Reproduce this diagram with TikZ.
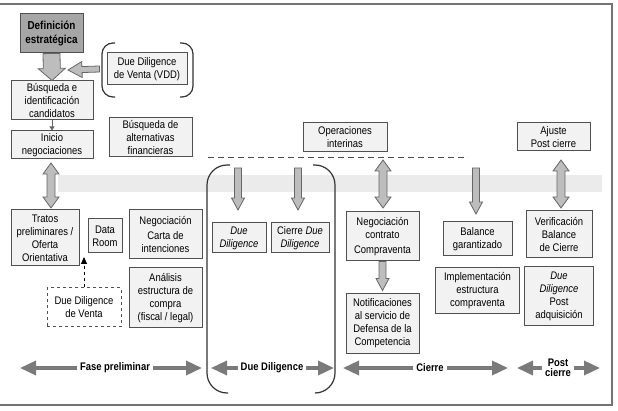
\documentclass[tikz,border=0pt]{standalone}
\usepackage{fontspec}
\setmainfont{Liberation Sans}[FakeStretch=0.86]
\usetikzlibrary{calc, positioning, arrows.meta}
\definecolor{boxline}{HTML}{505050}
\definecolor{boxfill}{HTML}{F2F2F2}
\definecolor{deffill}{HTML}{A6A6A6}
\definecolor{arrfill}{HTML}{BDBDBD}
\definecolor{arrline}{HTML}{666666}
\definecolor{bandgray}{HTML}{EBEBEB}
\definecolor{phasegray}{HTML}{7A7A7A}
\tikzstyle{stage} = [rectangle, draw=boxline, line width=1pt, fill=boxfill, align=center,
inner sep=2pt, font=\fontsize{11}{13}\selectfont]
\tikzstyle{phaselabel} = [fill=white, inner sep=3pt, align=center, font=\fontsize{11}{11}\selectfont\bfseries]
\tikzstyle{phasearrow} = [draw=phasegray, line width=3.5pt, -{Triangle[length=16pt,width=14pt]}]
\tikzstyle{bracket} = [draw=black!80, line width=1.2pt]
\tikzset{
  blockarr/.style n args={3}{draw=arrline, fill=arrfill, line width=0.8pt, to path={
    ($(\tikztostart)!#1!90:(\tikztotarget)$) -- ($(\tikztotarget)!#3!(\tikztostart)!#1!-90:(\tikztostart)$)
    -- ($(\tikztotarget)!#3!(\tikztostart)!#2!-90:(\tikztostart)$) -- (\tikztotarget)
    -- ($(\tikztotarget)!#3!(\tikztostart)!#2!90:(\tikztostart)$)
    -- ($(\tikztotarget)!#3!(\tikztostart)!#1!90:(\tikztostart)$)
    -- ($(\tikztostart)!#1!-90:(\tikztotarget)$) -- cycle}},
  blockdbl/.style n args={3}{draw=arrline, fill=arrfill, line width=0.8pt, to path={
    (\tikztostart) -- ($(\tikztostart)!#3!(\tikztotarget)!#2!90:(\tikztotarget)$)
    -- ($(\tikztostart)!#3!(\tikztotarget)!#1!90:(\tikztotarget)$)
    -- ($(\tikztotarget)!#3!(\tikztostart)!#1!-90:(\tikztostart)$)
    -- ($(\tikztotarget)!#3!(\tikztostart)!#2!-90:(\tikztostart)$) -- (\tikztotarget)
    -- ($(\tikztotarget)!#3!(\tikztostart)!#2!90:(\tikztostart)$)
    -- ($(\tikztotarget)!#3!(\tikztostart)!#1!90:(\tikztostart)$)
    -- ($(\tikztostart)!#3!(\tikztotarget)!#1!-90:(\tikztotarget)$)
    -- ($(\tikztostart)!#3!(\tikztotarget)!#2!-90:(\tikztotarget)$) -- cycle}}
}

\begin{document}
\begin{tikzpicture}[x=1pt, y=-1pt]
  \useasboundingbox (0,0) rectangle (618,411);
  \draw[draw=black!55, line width=1.2pt] (-3,4) -- (612,4) -- (612,405) -- (-3,405);
  \fill[bandgray] (58,175) rectangle (602,192);
  \draw[draw=black!70, line width=0.8pt, dash pattern=on 6pt off 4pt] (208,157) -- (468,157);

  % top part
  \node (def) [stage, fill=deffill, font=\fontsize{11.5}{14}\selectfont\bfseries, minimum width=63pt, minimum height=39pt] at (51.5,33.5) {Definición\\estratégica};
  \node (vdd) [stage, minimum width=80pt, minimum height=32pt] at (147,69) {Due Diligence\\de Venta (VDD)};
  \node (bus) [stage, minimum width=82pt, minimum height=39pt] at (52,100.5) {Búsqueda e\\identificación\\candidatos};
  \node (inicio) [stage, below=10pt of bus, minimum width=82pt, minimum height=28pt] {Inicio\\negociaciones};
  \node (alt) [stage, minimum width=83pt, minimum height=39pt] at (150.5,137.5) {Búsqueda de\\alternativas\\financieras};
  \node (opint) [stage, minimum width=84pt, minimum height=29pt] at (345,137.5) {Operaciones\\interinas};
  \node (ajuste) [stage, minimum width=73pt, minimum height=28pt] at (553.5,137) {Ajuste\\Post cierre};

  % fase preliminar
  \node (tratos) [stage, minimum width=68pt, minimum height=56pt] at (45,238) {Tratos\\preliminares /\\Oferta\\Orientativa};
  \node (dataroom) [stage, minimum width=34pt, minimum height=34pt] at (105,236) {Data\\Room};
  \node (carta) [stage, minimum width=73pt, minimum height=49pt] at (165.5,234.5) {Negociación\\[2pt]Carta de\\intenciones};
  \node (analisis) [stage, below=8pt of carta, minimum width=73pt, minimum height=60pt] {Análisis\\estructura de\\compra\\(fiscal / legal)};
  \node (ddv) [stage, fill=white, dashed, minimum width=74pt, minimum height=39pt] at (84,307.5) {Due Diligence\\de Venta};

  % due diligence
  \node (dd) [stage, minimum width=54pt, minimum height=30pt] at (239,238) {\textit{Due}\\\textit{Diligence}};
  \node (cierredd) [stage, right=4pt of dd, minimum width=58pt, minimum height=30pt] {Cierre \textit{Due}\\\textit{Diligence}};

  % cierre
  \node (negcont) [stage, minimum width=73pt, minimum height=49pt] at (382.5,236.5) {Negociación\\contrato\\[2pt]Compraventa};
  \node (notif) [stage, below=32pt of negcont, minimum width=73pt, minimum height=59pt] {Notificaciones\\al servicio de\\Defensa de la\\Competencia};
  \node (balance) [stage, minimum width=69pt, minimum height=34pt] at (477.5,239) {Balance\\garantizado};
  \node (impl) [stage, below=11pt of balance, minimum width=84pt, minimum height=46pt] {Implementación\\estructura\\compraventa};

  % post cierre
  \node (verif) [stage, minimum width=66pt, minimum height=47pt] at (559,234.5) {Verificación\\Balance\\de Cierre};
  \node (ddpost) [stage, below=8pt of verif, minimum width=69pt, minimum height=59pt] {\textit{Due}\\\textit{Diligence}\\Post\\adquisición};

  % brackets
  \draw[bracket, rounded corners=11pt] (115,43) -- (102,43) -- (102,97) -- (115,97);
  \draw[bracket, rounded corners=11pt] (180,43) -- (193,43) -- (193,97) -- (180,97);
  \draw[bracket, rounded corners=20pt] (230,165) -- (207,165) -- (207,393) -- (228,393);
  \draw[bracket, rounded corners=20pt] (313,165) -- (335,165) -- (335,393) -- (315,393);

  % arrow ends on the band
  \coordinate (vddtip) at (68,70);
  \coordinate (ddtop) at (238,168);
  \coordinate (ddtip) at (238,210);
  \coordinate (cdtop) at (298,168);
  \coordinate (cdtip) at (298,210);
  \coordinate (optop) at (383,160);
  \coordinate (opbot) at (383,208);
  \coordinate (baltop) at (476,168);
  \coordinate (baltip) at (476,214);
  \coordinate (ajtop) at (561,160);
  \coordinate (ajbot) at (561,208);
  \coordinate (initop) at (51,163);
  \coordinate (inibot) at (51,208);
  \coordinate (tratostip) at (84,257);

  \draw[blockarr={8.5pt}{13.5pt}{12pt}] (def.south) to (bus.north);
  \draw[blockarr={3pt}{8pt}{14pt}] ([xshift=-7pt]vdd.west) to (vddtip);
  \draw[draw=arrline, line width=0.8pt, -{Triangle[length=4pt,width=5pt]}] (bus.south) -- (inicio.north);
  \draw[blockdbl={4pt}{8pt}{11pt}] (initop) to (inibot);
  \draw[blockarr={3.5pt}{6.5pt}{12pt}] (ddtop) to (ddtip);
  \draw[blockarr={3.5pt}{6.5pt}{12pt}] (cdtop) to (cdtip);
  \draw[blockdbl={4pt}{8pt}{11pt}] (optop) to (opbot);
  \draw[blockarr={3.5pt}{6.5pt}{12pt}] (baltop) to (baltip);
  \draw[blockdbl={4pt}{8pt}{11pt}] (ajtop) to (ajbot);
  \draw[blockarr={3.5pt}{6.5pt}{12pt}] (negcont.south) to ([yshift=3pt]notif.north);
  \draw[black, line width=0.8pt, dashed, -{Triangle[length=7pt,width=6pt]}] (ddv.north) -- (tratostip);

  % phases
  \node (fasepre) [phaselabel] at (115,368) {Fase preliminar};
  \node (fasedd) [phaselabel] at (272,368) {Due Diligence};
  \node (fasecierre) [phaselabel] at (430,368) {Cierre};
  \node (fasepost) [phaselabel, font=\fontsize{11}{10}\selectfont\bfseries] at (558,368) {Post\\cierre};
  \coordinate (fpl) at (20,368);
  \coordinate (fpr) at (202,368);
  \coordinate (fdl) at (211,368);
  \coordinate (fdr) at (334,368);
  \coordinate (fcl) at (343,368);
  \coordinate (fcr) at (508,368);
  \coordinate (fol) at (517,368);
  \coordinate (for) at (600,368);
  \draw[phasearrow] (fasepre) -- (fpl);
  \draw[phasearrow] (fasepre) -- (fpr);
  \draw[phasearrow] (fasedd) -- (fdl);
  \draw[phasearrow] (fasedd) -- (fdr);
  \draw[phasearrow] (fasecierre) -- (fcl);
  \draw[phasearrow] (fasecierre) -- (fcr);
  \draw[phasearrow] (fasepost) -- (fol);
  \draw[phasearrow] (fasepost) -- (for);
\end{tikzpicture}
\end{document}
